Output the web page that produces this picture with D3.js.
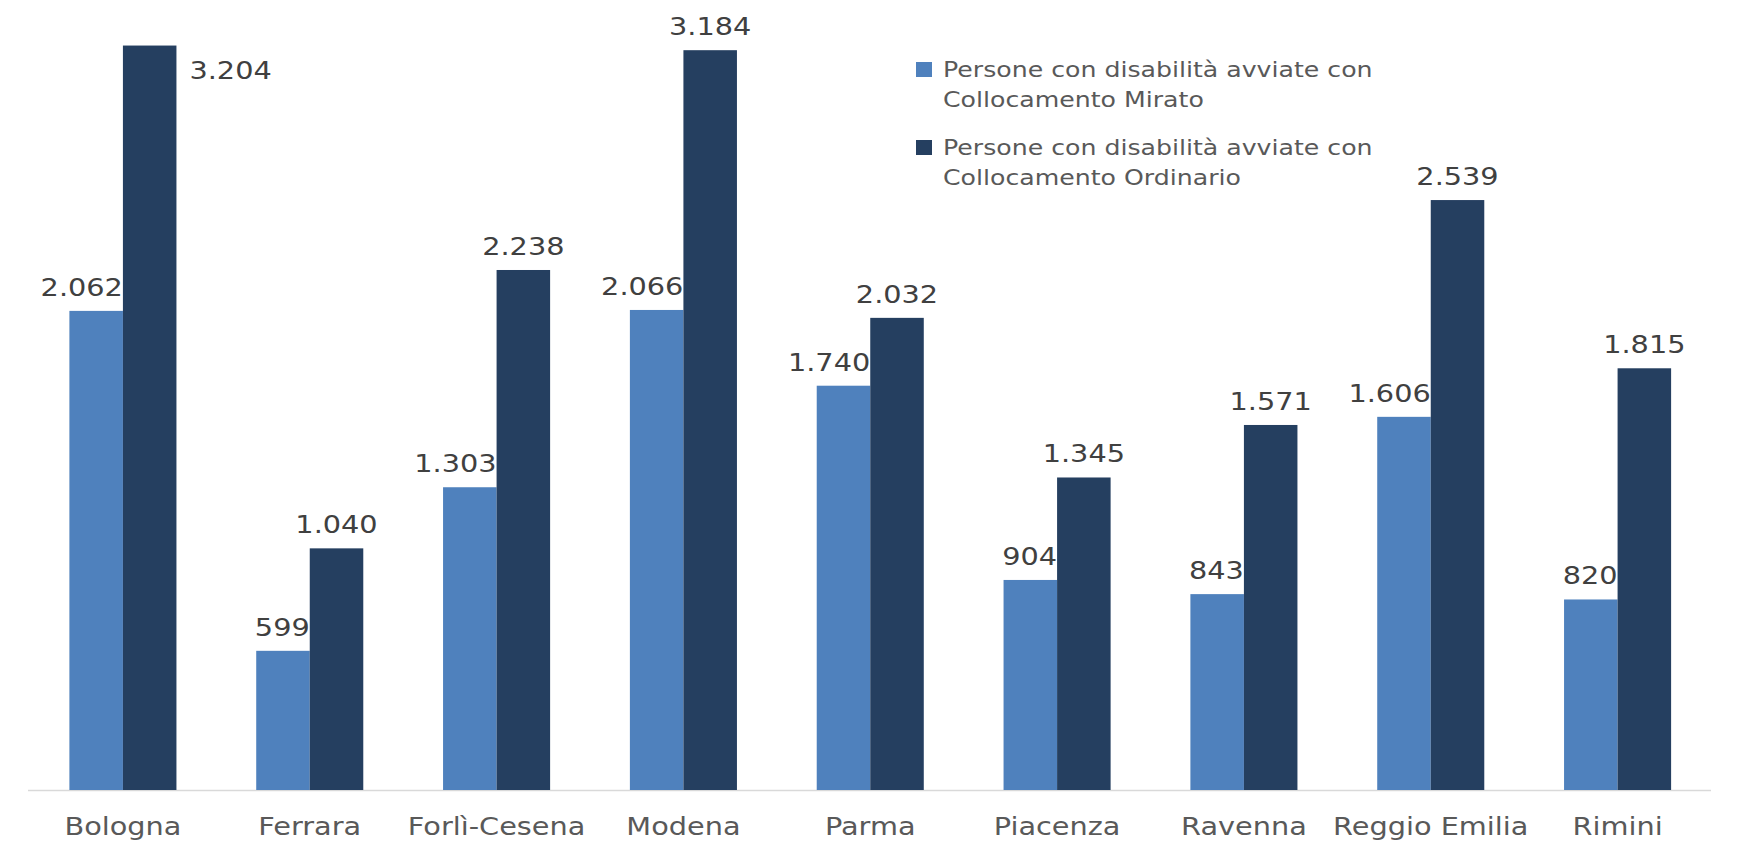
<!DOCTYPE html>
<html>
<head>
<meta charset="utf-8">
<script src="https://cdn.jsdelivr.net/npm/d3@7"></script>
<style>
  html, body { margin: 0; padding: 0; background: #ffffff; }
  svg { display: block; }
  text { font-family: "DejaVu Sans", "Open Sans", sans-serif; }
</style>
</head>
<body>
<svg id="chart" width="1752" height="853"></svg>
<script>
// Province of Emilia-Romagna
const categories = ["Bologna", "Ferrara", "Forlì-Cesena", "Modena", "Parma",
                    "Piacenza", "Ravenna", "Reggio Emilia", "Rimini"];

// Persone con disabilità avviate con Collocamento Mirato
const mirato = [2062, 599, 1303, 2066, 1740, 904, 843, 1606, 820];
// Persone con disabilità avviate con Collocamento Ordinario
const ordinario = [3204, 1040, 2238, 3184, 2032, 1345, 1571, 2539, 1815];

const seriesNames = [
  ["Persone con disabilità avviate con", "Collocamento Mirato"],
  ["Persone con disabilità avviate con", "Collocamento Ordinario"]
];
const seriesColors = ["#4f81bd", "#253f60"];

const W = 1752, H = 853;
const base = 790, plotTop = 15;
const sx = 1.15; // horizontal text stretch

const svg = d3.select("#chart");

const x0 = d3.scaleBand()
  .domain(categories)
  .range([29.5, 1711])
  .paddingInner(0.427)
  .paddingOuter(0.2135);

const x1 = d3.scaleBand()
  .domain([0, 1])
  .range([0, x0.bandwidth()]);

const y = d3.scaleLinear().domain([0, 3400]).range([base, 0]);

const fmt = v => d3.format(",")(v).replace(/,/g, ".");

// baseline axis
const xAxis = d3.axisBottom(x0).tickSize(0).tickPadding(0).tickFormat("");
const gx = svg.append("g").attr("transform", `translate(0,${base})`).call(xAxis);
gx.select(".domain").attr("stroke", "#d9d9d9").attr("stroke-width", 1.5)
  .attr("d", `M${x0.range()[0] - 1.5},0.5H${x0.range()[1]}`);

// category labels
svg.append("g").selectAll("text")
  .data(categories)
  .join("text")
  .attr("transform", d => `translate(${x0(d) + x0.bandwidth() / 2},835) scale(${sx},1)`)
  .attr("text-anchor", "middle")
  .attr("font-size", 25)
  .attr("fill", "#595959")
  .text(d => d);

// bars
const rows = categories.map((c, i) => ({ c, vals: [mirato[i], ordinario[i]] }));
const groups = svg.append("g").selectAll("g")
  .data(rows)
  .join("g")
  .attr("transform", d => `translate(${x0(d.c)},0)`);

groups.selectAll("rect")
  .data(d => d.vals.map((v, s) => ({ v, s })))
  .join("rect")
  .attr("x", d => x1(d.s))
  .attr("width", x1.bandwidth())
  .attr("y", d => y(d.v))
  .attr("height", d => base - y(d.v))
  .attr("fill", d => seriesColors[d.s]);

// value labels: outside end; kept clear of the neighbouring bar,
// and moved to the right of the bar when they would leave the plot area
const labelSize = 25;
groups.selectAll("text.val")
  .data(d => d.vals.map((v, s) => ({ v, s })))
  .join("text")
  .attr("class", "val")
  .attr("font-size", labelSize)
  .attr("fill", "#404040")
  .attr("text-anchor", "start")
  .text(d => fmt(d.v))
  .each(function (d) {
    const top = y(d.v);
    const w = this.getComputedTextLength() * sx;
    const left = x1(d.s), right = left + x1.bandwidth();
    let tx, ty;
    if (top - 15 - labelSize * 0.73 < plotTop) {
      tx = right + 13;
      ty = top + 33;
    } else {
      tx = (left + right) / 2 - w / 2;
      if (d.s === 0 && tx + w > right) tx = right - w;
      ty = top - 15;
    }
    d3.select(this).attr("transform", `translate(${tx},${ty}) scale(${sx},1)`);
  });

// legend
const legendSx = 1.2;
const legend = svg.append("g").attr("transform", "translate(916,0)");
const entries = legend.selectAll("g")
  .data(seriesNames)
  .join("g")
  .attr("transform", (d, i) => `translate(0,${62 + i * 78})`);
entries.append("rect")
  .attr("x", 0).attr("y", 0)
  .attr("width", 16).attr("height", 15)
  .attr("fill", (d, i) => seriesColors[i]);
entries.each(function (lines) {
  const g = d3.select(this);
  lines.forEach((t, k) => {
    g.append("text")
      .attr("transform", `translate(27,${15 + k * 30}) scale(${legendSx},1)`)
      .attr("font-size", 21)
      .attr("fill", "#595959")
      .text(t);
  });
});
</script>
</body>
</html>
